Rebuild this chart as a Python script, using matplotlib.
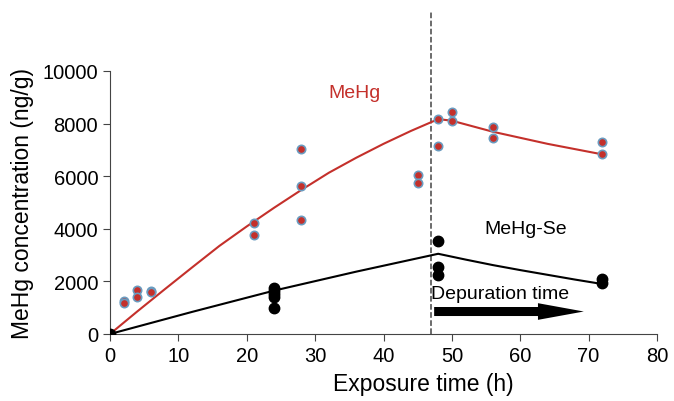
import numpy as np
import matplotlib
matplotlib.use('Agg')
import matplotlib.pyplot as plt
from matplotlib.patches import FancyArrowPatch

plt.rcParams['font.family'] = ['Liberation Sans', 'DejaVu Sans']

# MeHg measurements (red dots)
t_mehg = [0, 2, 2, 4, 4, 6, 6, 21, 21, 28, 28, 28, 45, 45, 48, 48, 50, 50, 56, 56, 72, 72]
c_mehg = [0, 1250, 1180, 1670, 1400, 1630, 1600, 4220, 3770, 7030, 5630, 4330,
          6040, 5740, 8170, 7150, 8440, 8100, 7870, 7450, 7300, 6840]

# MeHg-Se measurements (black dots)
t_se = [0, 24, 24, 24, 24, 24, 48, 48, 48, 72, 72]
c_se = [0, 1750, 1650, 1520, 1400, 980, 3540, 2540, 2240, 2090, 1930]

# model curves
t_fit_mehg = [0, 4, 8, 12, 16, 20, 24, 28, 32, 36, 40, 44, 48, 50, 56, 64, 72]
c_fit_mehg = [0, 860, 1700, 2530, 3350, 4090, 4800, 5480, 6130, 6700, 7230, 7720, 8170,
              8110, 7690, 7230, 6830]
t_fit_se = [0, 12, 24, 36, 48, 52, 56, 60, 64, 68, 72]
c_fit_se = [0, 840, 1650, 2370, 3050, 2830, 2620, 2430, 2250, 2070, 1900]

t_switch = 47

red = '#c4302b'
edge = '#6a9cc0'

fig = plt.figure(figsize=(6.74, 4.02), dpi=100)
ax = fig.add_axes([110/674, 1-335/402, 547/674, 263/402])

ax.plot(t_fit_mehg, c_fit_mehg, color=red, lw=1.5, zorder=2)
ax.plot(t_fit_se, c_fit_se, color='black', lw=1.5, zorder=2)
ax.plot(t_mehg, c_mehg, 'o', ms=6, mfc=red, mec=edge, mew=1.2, zorder=3)
ax.plot(t_se, c_se, 'o', ms=7.5, color='black', zorder=3)

ax.plot([t_switch, t_switch], [0, 12300], '--', color='#444444', lw=1.1,
        clip_on=False, zorder=1)

arrow = FancyArrowPatch((t_switch, 855), (69.7, 855),
                        arrowstyle='simple,head_width=12,head_length=33,tail_width=6.5',
                        mutation_scale=1, color='black', lw=0, zorder=4)
ax.add_patch(arrow)

ax.text(t_switch, 1370, 'Depuration time', fontsize=14, ha='left', va='baseline')
ax.text(35.7, 9000, 'MeHg', fontsize=14, color=red, ha='center', va='baseline')
ax.text(60.8, 3840, 'MeHg-Se', fontsize=14, ha='center', va='baseline')

ax.set_xlim(0, 80)
ax.set_ylim(0, 10000)
ax.set_xticks(np.arange(0, 81, 10))
ax.set_yticks(np.arange(0, 10001, 2000))
ax.spines['top'].set_visible(False)
ax.spines['right'].set_visible(False)
for s in ['left', 'bottom']:
    ax.spines[s].set_color('#444444')
ax.tick_params(labelsize=14.5, length=5, color='#444444')
ax.set_xlabel('Exposure time (h)', fontsize=16.5)
ax.set_ylabel('MeHg concentration (ng/g)', fontsize=16.5, labelpad=6)
ax.xaxis.set_label_coords((423-110)/547, -0.145)

fig.savefig('out.png', dpi=100)
